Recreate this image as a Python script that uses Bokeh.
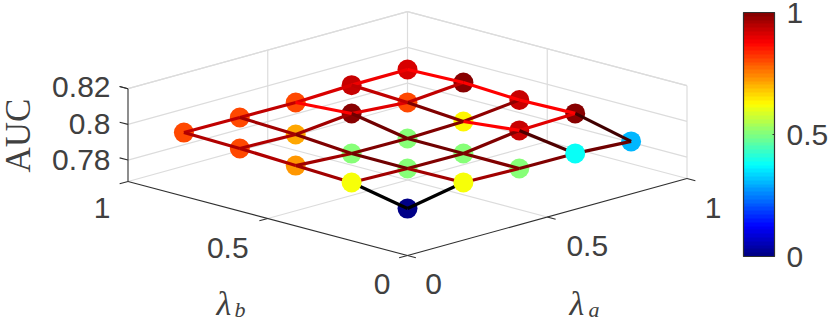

import math
import numpy as np
from bokeh.embed import file_html
from bokeh.resources import INLINE
from bokeh.plotting import figure
from bokeh.core.properties import value
from bokeh.models import Range1d, LinearColorMapper, ColorBar, FixedTicker, ColumnDataSource

lambda_a = [0.0, 0.2, 0.4, 0.6, 0.8]
lambda_b = [0.0, 0.2, 0.4, 0.6, 0.8]

# AUC[b index][a index]
auc_b0 = [0.7943, 0.8003, 0.7995, 0.7993, 0.7974]
auc_b1 = [0.8006, 0.7998, 0.7996, 0.8039, 0.8048]
auc_b2 = [0.8018, 0.7999, 0.7997, 0.8006, 0.8040]
auc_b3 = [0.8031, 0.8023, 0.8054, 0.8030, 0.8055]
auc_b4 = [0.8037, 0.8035, 0.8033, 0.8044, 0.8045]
AUC = [auc_b0, auc_b1, auc_b2, auc_b3, auc_b4]

# marker colour values on the colour bar
col_b0 = [0.00, 0.62, 0.50, 0.39, 0.31]
col_b1 = [0.62, 0.50, 0.50, 0.93, 1.00]
col_b2 = [0.73, 0.50, 0.50, 0.63, 0.93]
col_b3 = [0.81, 0.71, 1.00, 0.81, 1.00]
col_b4 = [0.81, 0.81, 0.81, 0.93, 0.92]
COL = [col_b0, col_b1, col_b2, col_b3, col_b4]

# edge shade (0 black .. 1 red); edges along lambda_a for each b
edge_a_b0 = [0.00, 0.63, 0.50, 0.44]
edge_a_b1 = [0.63, 0.50, 0.50, 0.88]
edge_a_b2 = [0.63, 0.50, 0.50, 0.56]
edge_a_b3 = [0.69, 0.63, 0.88, 0.75]
edge_a_b4 = [0.75, 0.75, 0.85, 0.94]
EDGE_A = [edge_a_b0, edge_a_b1, edge_a_b2, edge_a_b3, edge_a_b4]
# edges along lambda_b for each a
edge_b_a0 = [0.00, 0.63, 0.69, 0.69]
edge_b_a1 = [0.63, 0.44, 0.50, 0.63]
edge_b_a2 = [0.50, 0.44, 0.44, 1.00]
edge_b_a3 = [0.31, 1.00, 0.50, 0.75]
edge_b_a4 = [0.25, 1.00, 1.00, 1.00]
EDGE_B = [edge_b_a0, edge_b_a1, edge_b_a2, edge_b_a3, edge_b_a4]

# markers that sit in front of the mesh: (a index, b index)
front_markers = [(1, 0), (0, 1), (3, 0)]

z_ticks = [0.78, 0.80, 0.82]
z_tick_labels = ["0.78", "0.8", "0.82"]
ab_ticks = [0.0, 0.5, 1.0]
ab_tick_labels = ["0", "0.5", "1"]
cb_ticks = [0, 0.5, 1]
Z_MIN, Z_MAX = 0.768, 0.82

GRID = "#dcdcdc"
AXIS = "#303030"
TEXT = "#404040"
SANS = "Liberation Sans"
SERIF = "Liberation Serif"


def sx(a, b):
    return 407 + 279.5 * a - 279.5 * b


def sy(a, b, z=Z_MIN):
    return 255 - 77 * a - 74 * b - 1785 * (z - Z_MIN)


def seg(p0, p1):
    return [sx(p0[0], p0[1]), sx(p1[0], p1[1])], [sy(*p0), sy(*p1)]


def jet(n=64):
    out = []
    for i in range(n):
        v = (i + 0.5) / n * 4
        r = min(max(min(v - 1.5, 4.5 - v), 0), 1)
        g = min(max(min(v - 0.5, 3.5 - v), 0), 1)
        bl = min(max(min(v + 0.5, 2.5 - v), 0), 1)
        out.append("#%02x%02x%02x" % (round(r * 255), round(g * 255), round(bl * 255)))
    return out


JET = jet()
REDS = ["#%02x0000" % i for i in range(256)]

p = figure(width=830, height=322, output_backend="svg", toolbar_location=None,
           x_range=Range1d(0, 830), y_range=Range1d(322, 0),
           min_border=0, outline_line_color=None, x_axis_type="linear")
p.axis.visible = False
p.grid.visible = False
p.background_fill_color = "white"
p.border_fill_color = "white"

# ---- light box lines and grid
gx, gy = [], []
for corner0, corner1 in [
    ((0, 1, Z_MAX), (1, 1, Z_MAX)), ((1, 1, Z_MAX), (1, 0, Z_MAX)),
    ((1, 1, Z_MIN), (0, 1, Z_MIN)), ((1, 1, Z_MIN), (1, 0, Z_MIN)),
    ((1, 1, Z_MIN), (1, 1, Z_MAX)), ((1, 0, Z_MIN), (1, 0, Z_MAX)),
    ((0.5, 1, Z_MIN), (0.5, 1, Z_MAX)), ((1, 0.5, Z_MIN), (1, 0.5, Z_MAX)),
    ((0.5, 0, Z_MIN), (0.5, 1, Z_MIN)), ((0, 0.5, Z_MIN), (1, 0.5, Z_MIN)),
]:
    x, y = seg(corner0, corner1)
    gx.append(x); gy.append(y)
for z in z_ticks:
    for c0, c1 in [((0, 1, z), (1, 1, z)), ((1, 1, z), (1, 0, z))]:
        x, y = seg(c0, c1)
        gx.append(x); gy.append(y)
p.multi_line(gx, gy, line_color=GRID, line_width=1.2)

# ---- dark axes and ticks
ax, ay = [], []
for c0, c1 in [((0, 1, Z_MIN), (0, 1, Z_MAX)), ((0, 1, Z_MIN), (0, 0, Z_MIN)), ((0, 0, Z_MIN), (1, 0, Z_MIN))]:
    x, y = seg(c0, c1)
    ax.append(x); ay.append(y)
for z in z_ticks + [Z_MAX]:
    x, y = seg((0, 1, z), (0, 1.03, z))
    ax.append(x); ay.append(y)
for t in ab_ticks:
    x, y = seg((t, 0, Z_MIN), (t, -0.03, Z_MIN))
    ax.append(x); ay.append(y)
    x, y = seg((0, t, Z_MIN), (-0.03, t, Z_MIN))
    ax.append(x); ay.append(y)
p.multi_line(ax, ay, line_color=AXIS, line_width=1.1)

# ---- markers
ma, mb, mc = [], [], []
fa, fb, fc = [], [], []
for j, bv in enumerate(lambda_b):
    for i, av in enumerate(lambda_a):
        if (i, j) in front_markers:
            fa.append(sx(av, bv)); fb.append(sy(av, bv, AUC[j][i])); fc.append(COL[j][i])
        else:
            ma.append(sx(av, bv)); mb.append(sy(av, bv, AUC[j][i])); mc.append(COL[j][i])
mapper = LinearColorMapper(palette=JET, low=0, high=1)
p.scatter(x="x", y="y", size=20, line_color=None,
          fill_color={"field": "c", "transform": mapper},
          source=ColumnDataSource(dict(x=ma, y=mb, c=mc)))

# ---- mesh edges on top of the markers
ex, ey, ec = [], [], []
for j, bv in enumerate(lambda_b):
    for i in range(4):
        a0, a1 = lambda_a[i], lambda_a[i + 1]
        x, y = seg((a0, bv, AUC[j][i]), (a1, bv, AUC[j][i + 1]))
        ex.append(x); ey.append(y); ec.append(EDGE_A[j][i])
for i, av in enumerate(lambda_a):
    for j in range(4):
        b0, b1 = lambda_b[j], lambda_b[j + 1]
        x, y = seg((av, b0, AUC[j][i]), (av, b1, AUC[j + 1][i]))
        ex.append(x); ey.append(y); ec.append(EDGE_B[i][j])
edge_mapper = LinearColorMapper(palette=REDS, low=0, high=1)
p.multi_line("xs", "ys", line_width=3.2, line_join="round",
             line_color={"field": "c", "transform": edge_mapper},
             source=ColumnDataSource(dict(xs=ex, ys=ey, c=ec)))

p.scatter(x="x", y="y", size=20, line_color=None,
          fill_color={"field": "c", "transform": mapper},
          source=ColumnDataSource(dict(x=fa, y=fb, c=fc)))

# ---- tick labels
FS = "30px"
p.text([110, 110, 110], [sy(0, 1, z) + d for z, d in zip(z_ticks, [0, 0, -1.5])], text=z_tick_labels,
       text_font=value(SANS), text_font_size=FS, text_color=TEXT,
       text_align="right", text_baseline="middle")
p.text([sx(0, t) - 40 + (t == 0) * 14.5 + (t == 1) * 14 for t in ab_ticks],
       [sy(0, t) + 29 - (t == 1) * 3 + (t == 0) * -1 for t in ab_ticks], text=ab_tick_labels,
       text_font=value(SANS), text_font_size=FS, text_color=TEXT,
       text_align="center", text_baseline="middle")
p.text([sx(t, 0) + 40 - (t == 0) * 14 - (t == 1) * 14 for t in ab_ticks],
       [sy(t, 0) + 29 - (t == 1) * 0 + (t == 0) * -1 for t in ab_ticks], text=ab_tick_labels,
       text_font=value(SANS), text_font_size=FS, text_color=TEXT,
       text_align="center", text_baseline="middle")

# ---- axis titles
p.text([17.5], [135], text=["AUC"], angle=math.pi / 2, text_font=value(SERIF), text_font_size="35px",
       text_color=TEXT, text_align="center", text_baseline="middle")
p.text([216, 569], [303, 303], text=["λ", "λ"], text_font=value(SERIF), text_font_style="italic",
       text_font_size="34px", text_color=TEXT, text_align="left", text_baseline="middle")
p.text([234, 588], [309, 309], text=["b", "a"], text_font=value(SERIF), text_font_style="italic",
       text_font_size="22px", text_color=TEXT, text_align="left", text_baseline="middle")

# ---- colour bar
cb = ColorBar(color_mapper=mapper, location=(743, 66), width=31, height=244, padding=0,
              ticker=FixedTicker(ticks=cb_ticks),
              major_label_overrides={0: "0", 0.5: "0.5", 1: "1"},
              major_label_text_font=SANS, major_label_text_font_size=FS,
              major_label_text_color=TEXT, label_standoff=12,
              major_tick_line_color=AXIS, major_tick_in=2, major_tick_out=0,
              minor_tick_line_color=None, bar_line_color=AXIS, bar_line_width=1.2,
              border_line_color=None, background_fill_alpha=0)
p.add_layout(cb, "center")

open("out.html", "w").write(file_html(p, INLINE))
